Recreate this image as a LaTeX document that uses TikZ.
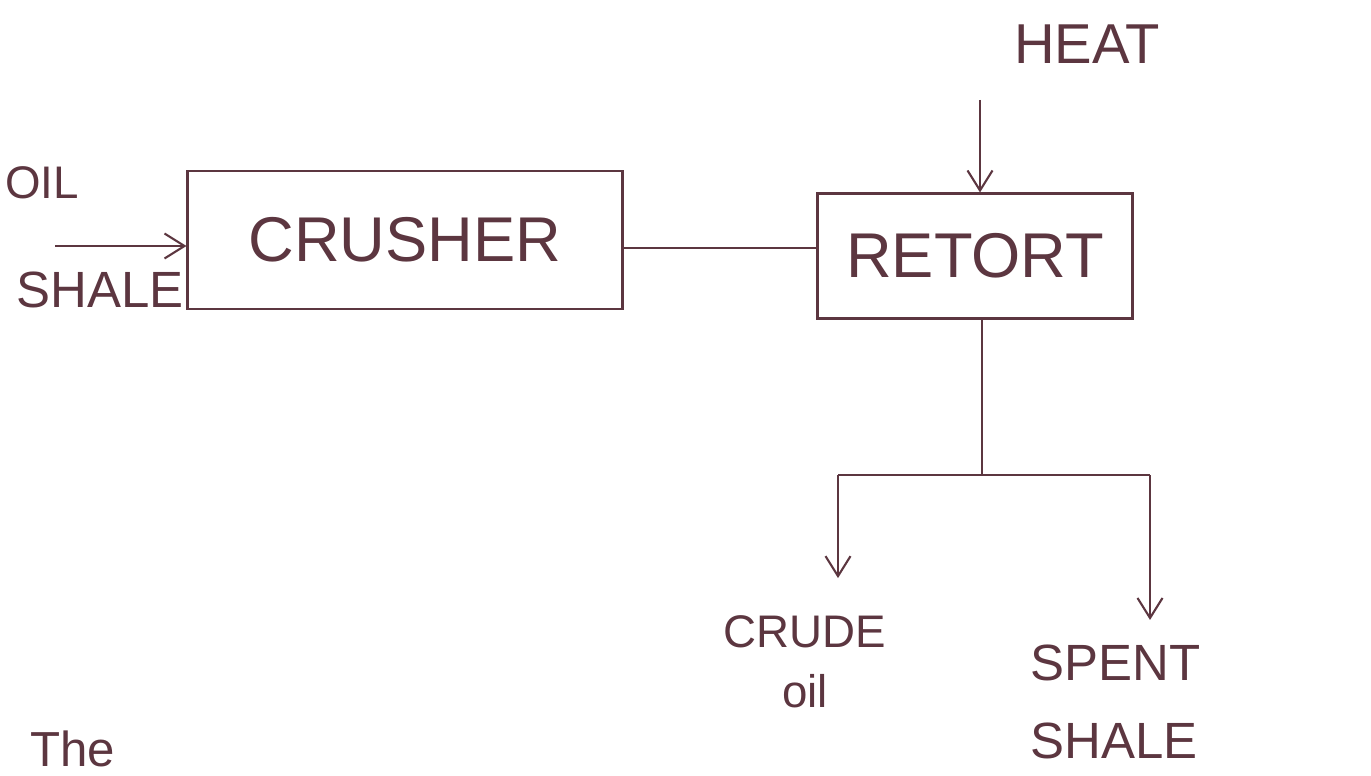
\documentclass[tikz,border=0pt]{standalone}
\usepackage{fontspec}
\setmainfont{Liberation Sans}
\usepackage{xcolor}
\usetikzlibrary{positioning,arrows.meta}
\definecolor{ink}{RGB}{92,54,64}

\begin{document}
\begin{tikzpicture}[x=0.02cm, y=-0.02cm, >={Straight Barb[length=4mm,width=5mm]}]
  \tikzset{
    unit/.style={draw=ink,line width=1.2pt,inner sep=0pt,text=ink,
                 font=\fontsize{36}{40}\selectfont},
    hand/.style={text=ink,inner sep=0pt,font=\fontsize{26}{30}\selectfont},
    flow/.style={draw=ink,line width=1.2pt}
  }
  \useasboundingbox (0,0) rectangle (1371,776);
  % Units
  \node[unit,minimum width=8.7cm,minimum height=2.76cm] (crusher) at (405,240) {CRUSHER};
  \node[unit,minimum width=6.3cm,minimum height=2.5cm] (retort) at (975,256) {RETORT};
  % Labels
  \node[hand,font=\fontsize{32}{36}\selectfont] (heat) at (1087,44) {HEAT};
  \node[hand] (oil) at (42,183) {OIL};
  \node[hand,font=\fontsize{29}{32}\selectfont] (shale) at (100,290) {SHALE};
  \node[hand,align=center] (crude) at (805,662) {CRUDE\\[4pt]oil};
  \node[hand,align=left,anchor=west,font=\fontsize{29}{32}\selectfont] (spent) at (1030,702) {SPENT\\[12pt]SHALE};
  \node[hand,anchor=base west,font=\fontsize{28}{32}\selectfont] (note) at (30,766) {The};
  % Coordinates
  \coordinate (feed) at (55,246);
  \coordinate (link) at (720,248);
  \coordinate (heatin) at (980,100);
  \coordinate (split) at (982,475);
  \coordinate (left) at (838,475);
  \coordinate (right) at (1150,475);
  % Flows
  \draw[flow,->] (feed) -- (crusher.west |- feed);
  \draw[flow] (crusher.east |- link) -- (retort.west |- link);
  \draw[flow,->] (heatin) -- (heatin |- retort.north);
  \draw[flow] (retort.south -| split) -- (split);
  \draw[flow] (left) -- (right);
  \draw[flow,->,shorten >=0.75cm] (left) -- (left |- crude.north);
  \draw[flow,->,shorten >=0.5cm] (right) -- (right |- spent.north);
\end{tikzpicture}
\end{document}
